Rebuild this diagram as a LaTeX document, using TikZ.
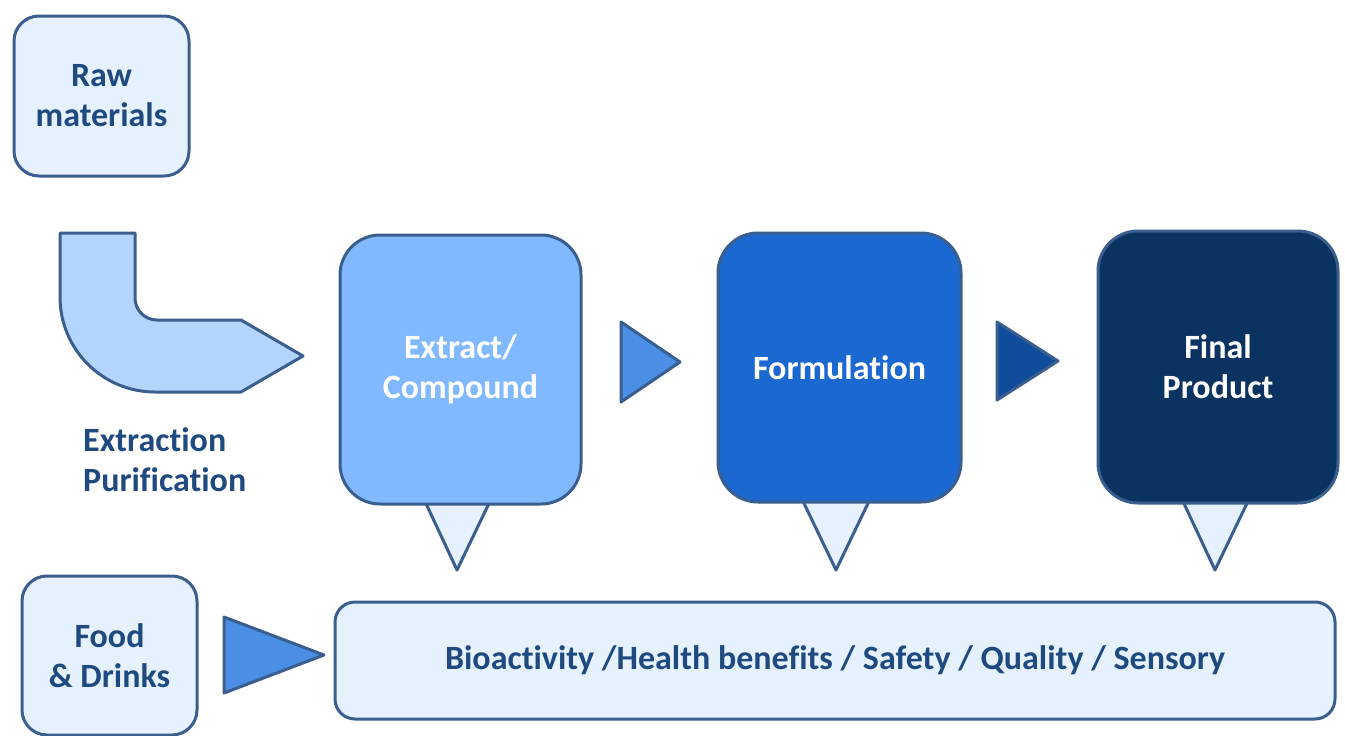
\documentclass[tikz,border=0pt]{standalone}
\usepackage{fontspec}
\setmainfont[Ligatures=NoCommon]{Carlito}
\definecolor{edge}{HTML}{3A5E8E}
\definecolor{pale}{HTML}{E6F1FE}
\definecolor{bend}{HTML}{B3D4FC}
\definecolor{c1}{HTML}{80B9FF}
\definecolor{c2}{HTML}{1A68D0}
\definecolor{c3}{HTML}{0B3362}
\definecolor{t1}{HTML}{4A8FE5}
\definecolor{t2}{HTML}{0F4C9C}
\definecolor{txt}{HTML}{1F4A80}
\begin{document}
\begin{tikzpicture}[x=1pt,y=-1pt,
  box/.style={draw=edge,line width=3pt,rounded corners=25pt,inner sep=0pt,align=center,font=\fontsize{34}{40}\selectfont\bfseries},
  pale box/.style={box,fill=pale,text=txt},
  big box/.style={box,rounded corners=40pt,text=white},
  tri/.style={draw=edge,line width=3pt,line join=round},
  lbl/.style={font=\fontsize{34}{40}\selectfont\bfseries,text=txt,align=left,inner sep=0pt}]
\useasboundingbox (0,0) rectangle (1345,736);
% callout triangles (behind boxes)
\draw[tri,fill=pale] (422,495) -- (457,570) -- (493,495);
\draw[tri,fill=pale] (800,495) -- (836,570) -- (872,495);
\draw[tri,fill=pale] (1180,495) -- (1215,570) -- (1251,495);
% boxes
\node[pale box,minimum width=175pt,minimum height=160pt] (raw) at (101.5,96) {Raw\\materials};
\node[big box,fill=c1,minimum width=241pt,minimum height=269pt] (ext) at (460.5,369.5) {Extract/\\Compound};
\node[big box,fill=c2,minimum width=243pt,minimum height=269pt] (form) at (839.5,367.5) {Formulation};
\node[big box,fill=c3,minimum width=240pt,minimum height=272pt] (fin) at (1218,367) {Final\\Product};
\node[pale box,minimum width=175pt,minimum height=159pt] (food) at (109.5,655.5) {Food\\\& Drinks};
\node[pale box,rounded corners=20pt,minimum width=1000pt,minimum height=117pt] (qual) at (835,660.5) {Bioactivity /Health benefits / Safety / Quality / Sensory};
% bent arrow
\draw[tri,fill=bend] (60,233) -- (135,233) -- (135,298) arc[start angle=180,end angle=90,radius=22] -- (241,320) -- (303,356) -- (241,392) -- (155,392) arc[start angle=90,end angle=180,radius=95] -- cycle;
\node[lbl,anchor=north west] (extr) at (83,427) {Extraction\\Purification};
% flow triangles
\coordinate (a1) at (621,322); \coordinate (a2) at (680,362); \coordinate (a3) at (621,402);
\draw[tri,fill=t1] (a1) -- (a2) -- (a3) -- cycle;
\coordinate (b1) at (997,322); \coordinate (b2) at (1058,361); \coordinate (b3) at (997,400);
\draw[tri,fill=t2] (b1) -- (b2) -- (b3) -- cycle;
\coordinate (d1) at (224,617); \coordinate (d2) at (324,655); \coordinate (d3) at (224,693);
\draw[tri,fill=t1] (d1) -- (d2) -- (d3) -- cycle;
\end{tikzpicture}
\end{document}
